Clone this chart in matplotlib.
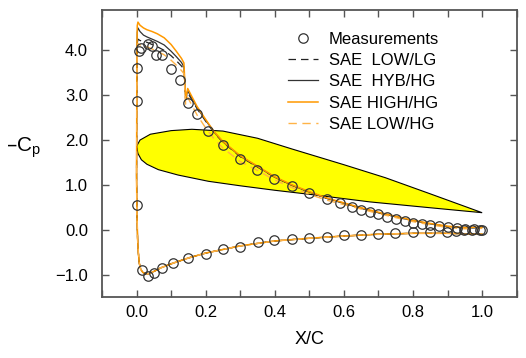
import numpy as np
import matplotlib
matplotlib.use("Agg")
import matplotlib.pyplot as plt
from matplotlib.legend_handler import HandlerLine2D
from matplotlib.ticker import MultipleLocator, FuncFormatter

plt.rcParams['font.family'] = ['Liberation Sans', 'DejaVu Sans']
plt.rcParams['mathtext.default'] = 'regular'

# ---------------- data ----------------
# measurements, upper surface
meas_up_x = [0.0, 0.0, 0.0, 0.008, 0.013, 0.032, 0.045, 0.057, 0.074, 0.099, 0.125,
             0.148, 0.174, 0.208, 0.249, 0.30, 0.348, 0.399, 0.449, 0.50, 0.551,
             0.589, 0.623, 0.65, 0.676, 0.70, 0.726, 0.751, 0.776, 0.80, 0.826,
             0.85, 0.876, 0.90, 0.926, 0.949, 0.976, 1.0]
meas_up_y = [0.55, 2.86, 3.60, 3.99, 4.06, 4.14, 4.10, 3.89, 3.89, 3.59, 3.34,
             2.82, 2.58, 2.21, 1.88, 1.57, 1.33, 1.14, 0.97, 0.82, 0.68,
             0.60, 0.50, 0.44, 0.39, 0.35, 0.29, 0.25, 0.20, 0.155, 0.125,
             0.095, 0.075, 0.055, 0.03, 0.02, 0.006, -0.01]
# measurements, lower surface
meas_lo_x = [0.016, 0.032, 0.050, 0.074, 0.106, 0.15, 0.20, 0.249, 0.30, 0.35,
             0.399, 0.449, 0.50, 0.551, 0.599, 0.649, 0.699, 0.749, 0.80, 0.85,
             0.898, 0.923, 0.947, 0.971, 0.995]
meas_lo_y = [-0.90, -1.03, -0.97, -0.86, -0.75, -0.64, -0.53, -0.44, -0.38, -0.28,
             -0.24, -0.20, -0.19, -0.16, -0.12, -0.11, -0.09, -0.07, -0.05, -0.06,
             -0.045, -0.03, -0.015, -0.01, 0.0]

# CFD: lower surface (trailing edge -> leading edge), shared by all runs
cfd_lo_x = [1.0, 0.95, 0.9, 0.8, 0.7, 0.6, 0.5, 0.4, 0.3, 0.2, 0.15, 0.1, 0.07,
            0.05, 0.035, 0.025, 0.018, 0.012, 0.008, 0.005, 0.003, 0.001, 0.0]
cfd_lo_y = [-0.10, -0.09, -0.08, -0.08, -0.10, -0.14, -0.19, -0.25, -0.36, -0.52,
            -0.63, -0.76, -0.85, -0.93, -0.98, -0.98, -0.95, -0.88, -0.75, -0.5,
            -0.2, 0.4, 1.2]

# CFD: upper surface (leading edge -> trailing edge)
cfd_up_x = [0.0, 0.0005, 0.001, 0.002, 0.004, 0.01, 0.02, 0.03, 0.045, 0.06, 0.08,
            0.1, 0.115, 0.13, 0.137, 0.142, 0.148, 0.16, 0.175, 0.2, 0.225, 0.25,
            0.3, 0.343, 0.4, 0.45, 0.5, 0.55, 0.6, 0.65, 0.7, 0.75, 0.8, 0.85,
            0.9, 0.95, 1.0]
low_lg_y = [1.2, 2.4, 3.6, 4.15, 4.25, 4.22, 4.20, 4.18, 4.13, 4.08, 4.00,
            3.88, 3.77, 3.65, 3.58, 2.90, 3.05, 2.90, 2.70, 2.42, 2.16, 1.95,
            1.63, 1.43, 1.17, 0.99, 0.84, 0.70, 0.59, 0.48, 0.38, 0.29, 0.20,
            0.13, 0.07, 0.04, 0.05]
hyb_hg_y = [1.2, 2.5, 3.8, 4.40, 4.50, 4.42, 4.34, 4.30, 4.25, 4.20, 4.12,
            3.98, 3.86, 3.73, 3.63, 2.92, 3.10, 2.93, 2.72, 2.44, 2.17, 1.96,
            1.64, 1.44, 1.17, 0.99, 0.84, 0.70, 0.59, 0.48, 0.38, 0.29, 0.20,
            0.13, 0.07, 0.04, 0.05]
high_hg_y = [1.2, 2.6, 3.9, 4.55, 4.63, 4.56, 4.50, 4.46, 4.42, 4.37, 4.28,
             4.13, 3.98, 3.82, 3.72, 2.92, 3.15, 2.97, 2.75, 2.46, 2.18, 1.97,
             1.65, 1.45, 1.18, 1.00, 0.85, 0.71, 0.60, 0.49, 0.39, 0.30, 0.21,
             0.14, 0.08, 0.05, 0.06]
low_hg_y = [1.2, 2.3, 3.5, 4.05, 4.15, 4.12, 4.10, 4.08, 4.03, 3.98, 3.90,
            3.78, 3.67, 3.55, 3.48, 2.80, 2.95, 2.78, 2.56, 2.27, 2.02, 1.82,
            1.52, 1.35, 1.11, 0.94, 0.79, 0.66, 0.56, 0.46, 0.36, 0.27, 0.18,
            0.11, 0.05, 0.02, 0.03]

# airfoil outline (scaled, for illustration)
foil_up_x = [0.0, 0.01, 0.04, 0.1, 0.16, 0.25, 0.35, 0.45, 0.6, 0.72, 0.85, 1.0]
foil_up_y = [1.86, 2.0, 2.13, 2.21, 2.24, 2.20, 2.04, 1.80, 1.45, 1.16, 0.80, 0.38]
foil_lo_x = [1.0, 0.85, 0.676, 0.5, 0.4, 0.3, 0.208, 0.12, 0.063, 0.03, 0.014, 0.004, 0.0]
foil_lo_y = [0.38, 0.49, 0.62, 0.79, 0.88, 0.98, 1.08, 1.22, 1.34, 1.46, 1.56, 1.70, 1.86]

labels = ["Measurements", "SAE  LOW/LG", "SAE  HYB/HG", "SAE HIGH/HG", "SAE LOW/HG"]
x_ticks = [0.0, 0.2, 0.4, 0.6, 0.8, 1.0]
y_ticks = [-1.0, 0.0, 1.0, 2.0, 3.0, 4.0]

# ---------------- figure ----------------
fig = plt.figure(figsize=(5.26, 3.58), dpi=100)
ax = fig.add_axes([102/526, 1 - 297/358, (516.7 - 102)/526, (297 - 10)/358])

ax.fill(foil_up_x + foil_lo_x, foil_up_y + foil_lo_y, facecolor='#FFFF00',
        edgecolor='black', linewidth=0.8, zorder=1)

def full(yu):
    return cfd_lo_x + cfd_up_x, cfd_lo_y + yu

c_orange = '#FF9900'
c_orange2 = '#FFB347'
xs, ys = full(low_lg_y)
l1, = ax.plot(xs, ys, color='#222222', lw=0.9, ls=(0, (6, 4)), zorder=3)
xs, ys = full(hyb_hg_y)
l2, = ax.plot(xs, ys, color='#333333', lw=0.9, zorder=3)
xs, ys = full(high_hg_y)
l3, = ax.plot(xs, ys, color=c_orange, lw=1.1, zorder=3)
xs, ys = full(low_hg_y)
l4, = ax.plot(xs, ys, color=c_orange2, lw=1.0, ls=(0, (6, 4)), zorder=3)

m, = ax.plot(meas_up_x + meas_lo_x, meas_up_y + meas_lo_y, ls='none', marker='o',
             markersize=6.8, markerfacecolor='none', markeredgecolor='#333333',
             markeredgewidth=0.9, zorder=4)

ax.set_xlim(-0.1, 1.1)
ax.set_ylim(-1.5, 4.9)
ax.set_xticks(x_ticks)
ax.xaxis.set_minor_locator(MultipleLocator(0.1))
ax.set_yticks(y_ticks)
fmt = FuncFormatter(lambda v, p: f"{v:.1f}".replace('-', '\u2212'))
ax.xaxis.set_major_formatter(fmt)
ax.yaxis.set_major_formatter(fmt)
ax.tick_params(which='both', direction='in', top=True, right=True,
               color='#555555', width=1.0)
ax.tick_params(which='major', length=5)
ax.tick_params(which='minor', length=5)
ax.tick_params(axis='x', labelsize=12, pad=6)
ax.tick_params(axis='y', labelsize=12, pad=10)
for s in ax.spines.values():
    s.set_color('#555555')
    s.set_linewidth(1.3)

ax.set_xlabel("X/C", fontsize=13, labelpad=8)
ax.set_ylabel("\u2013C$_p$", fontsize=15, rotation=0, va='center', ha='center')
ax.yaxis.set_label_coords(-0.19, 0.52)


class RightMarker(HandlerLine2D):
    def get_xdata(self, legend, xdescent, ydescent, width, height, fontsize):
        xdata = [-xdescent, -xdescent + width]
        return xdata, [-xdescent + width - 2]


leg = ax.legend([m, l1, l2, l3, l4], labels, loc='upper left',
                bbox_to_anchor=(0.448, 0.925), frameon=False, fontsize=12,
                handlelength=1.8, handletextpad=0.65, labelspacing=0.38,
                borderpad=0, borderaxespad=0,
                handler_map={m: RightMarker(numpoints=1)})

fig.savefig("out.png", dpi=100)
